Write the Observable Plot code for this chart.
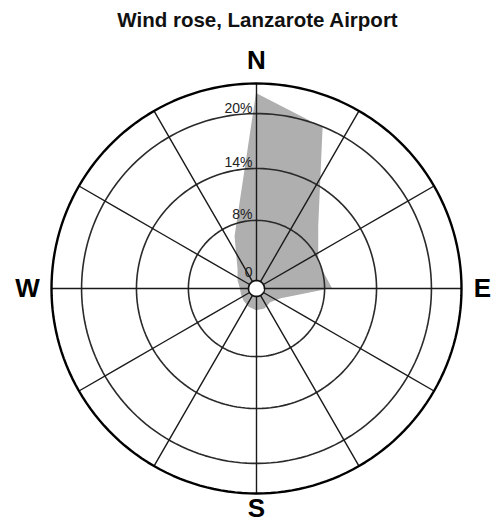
<!DOCTYPE html>
<html><head><meta charset="utf-8">
<script src="https://cdn.jsdelivr.net/npm/d3@7"></script>
<script src="https://cdn.jsdelivr.net/npm/@observablehq/plot@0.6"></script>
<style>
body{margin:0;background:#fff;font-family:"Liberation Sans",Arial,Helvetica,sans-serif;}
#title{height:40px;line-height:40px;text-align:center;padding-left:24px;font-weight:bold;font-size:20.5px;color:#111;box-sizing:border-box;width:491px;}
#chart svg{display:block;}
</style></head><body>
<div id="title">Wind rose, Lanzarote Airport</div>
<div id="chart"></div>
<script>
// Data
const directions = ["N","NNE","NE","ENE","E","ESE","SE","SSE","S","SSW","SW","WSW","W","WNW","NW","NNW"];
const bearings = [0,22.5,45,67.5,90,112.5,135,157.5,180,202.5,225,247.5,270,292.5,315,337.5];
const frequency = [22.2, 19.9, 10.3, 7.9, 8.9, 2.5, 1.6, 1.9, 1.9, 1.6, 1.3, 1.1, 1.1, 1.6, 2.4, 6.4];
const ringValues = [8, 14, 20];
const ringLabels = ["8%", "14%", "20%"];
const zeroLabel = ["0"];
const spokeBearings = [0,30,60,90,120,150,180,210,240,270,300,330];
const compassLabels = ["N","E","S","W"];

const rows = directions.map((d, i) => ({dir: d, bearing: bearings[i], value: frequency[i]}));

// radial scale: percent -> angular distance (degrees) from the pole of an azimuthal-equidistant projection
const rDeg = d3.scaleLinear().domain([0, 8, 14, 20, 23.3]).range([3.5, 29.9, 52.7, 76.8, 90]);
const lon = b => 180 - b;
const circle = r => d3.geoCircle().center([0, 90]).radius(r)();

const compassAnchor = {N: "top", E: "right", S: "bottom", W: "left"};
const compassDx = {N: 0, E: 21, S: 0, W: -24};
const compassDy = {N: -23, E: 0, S: 15, W: 0};

const chart = Plot.plot({
  width: 491,
  height: 484,
  marginLeft: 51,
  marginRight: 30,
  marginTop: 43,
  marginBottom: 31,
  projection: {type: "azimuthal-equidistant", rotate: [0, -90], domain: circle(90)},
  marks: [
    Plot.area(rows, {
      x1: d => lon(d.bearing), y1: d => 90 - rDeg(d.value),
      x2: 0, y2: 90,
      curve: "linear-closed", fill: "#afafaf", stroke: "none"
    }),
    Plot.geo(ringValues, {geometry: v => circle(rDeg(v)), fill: "none", stroke: "#2a2a2a", strokeWidth: 1.6}),
    Plot.link(spokeBearings, {
      x1: b => lon(b), y1: 90 - rDeg(0), x2: b => lon(b), y2: 0,
      stroke: "#1a1a1a", strokeWidth: 1.4
    }),
    Plot.geo([circle(90)], {fill: "none", stroke: "#000", strokeWidth: 2.4}),
    Plot.geo([circle(rDeg(0))], {fill: "white", stroke: "#111", strokeWidth: 1.7}),
    Plot.text(ringValues, {
      x: 180, y: v => 90 - rDeg(v), text: (v, i) => ringLabels[i],
      textAnchor: "end", lineAnchor: "bottom", dx: -4, dy: -1,
      fontSize: 14, fill: "#222", fontFamily: "Liberation Sans, Arial, sans-serif"
    }),
    Plot.text([0], {
      x: 180, y: v => 90 - rDeg(v), text: zeroLabel,
      textAnchor: "end", lineAnchor: "bottom", dx: -4, dy: -4,
      fontSize: 14, fill: "#222", fontFamily: "Liberation Sans, Arial, sans-serif"
    }),
    ...compassLabels.map(c => Plot.text([c], {
      text: d => d, frameAnchor: compassAnchor[c], textAnchor: "middle", lineAnchor: "middle",
      dx: compassDx[c], dy: compassDy[c],
      fontSize: 26, fontWeight: "bold", fill: "#000", fontFamily: "Liberation Sans, Arial, sans-serif"
    }))
  ]
});
document.getElementById("chart").appendChild(chart);
</script>
</body></html>
